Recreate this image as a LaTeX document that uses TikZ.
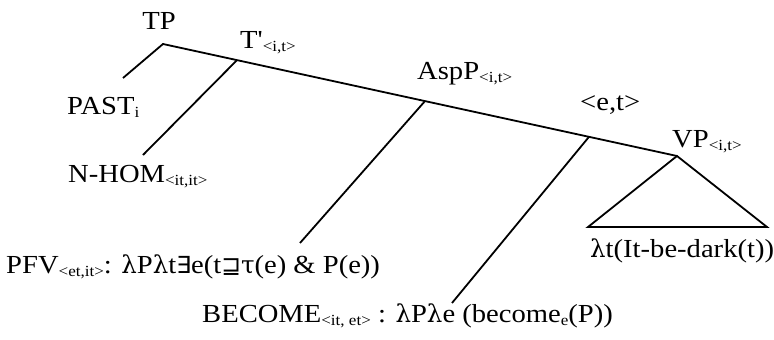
\documentclass[tikz,border=0pt]{standalone}
\usepackage{fontspec}
\setmainfont{Liberation Serif}[FakeStretch=1.1]
\newfontfamily\plainrm{Liberation Serif}[FakeStretch=1.1]
\newfontfamily\symserif{DejaVu Serif}
\newfontfamily\symsans{DejaVu Sans}
\usetikzlibrary{calc}
\newcommand\lsub[1]{\raisebox{-3pt}{\fontsize{15.5}{16}\selectfont #1}}
\newcommand\lam{{\symserif\fontsize{24.5}{26}\selectfont λ}}
\newcommand\tauch{{\symserif\fontsize{24.5}{26}\selectfont τ}}
\newcommand\exch{{\symsans\fontsize{23.5}{26}\selectfont ∃}}
\newcommand\sqsup{{\symsans\fontsize{23.5}{26}\selectfont ⊒}}
\begin{document}
\begin{tikzpicture}[x=1pt,y=-1pt,
  lbl/.style={inner sep=0pt, anchor=base west, font=\fontsize{26}{30}\selectfont},
  edge/.style={line width=1.8pt, line cap=butt, line join=miter}]
\useasboundingbox (0,0) rectangle (774,340);
% tree points
\coordinate (tp) at (163,44);
\coordinate (vp) at (677,156);
\coordinate (tbar) at ($(tp)!0.144!(vp)$);
\coordinate (asp) at ($(tp)!0.5097!(vp)$);
\coordinate (et) at ($(tp)!0.8288!(vp)$);
\coordinate (pastEnd) at (123,78);
\coordinate (nhomEnd) at (143,155);
\coordinate (pfvEnd) at (300,243);
\coordinate (becEnd) at (452,303);
\coordinate (triL) at (588,227);
\coordinate (triR) at (767,227);
% labels
\node[lbl, anchor=base] (tpL) at (159,29) {TP};
\node[lbl] (tbarL) at (240,48) {T{\plainrm '}\lsub{<i,t>}};
\node[lbl] (pastL) at (67,114) {PAST\lsub{i}};
\node[lbl] (nhomL) at (68,182) {N-HOM\lsub{<it,it>}};
\node[lbl] (aspL) at (417,79) {AspP\lsub{<i,t>}};
\node[lbl] (etL) at (580,110) {<e,t>};
\node[lbl] (vpL) at (672,147) {VP\lsub{<i,t>}};
\node[lbl] (vpTxt) at (590,257) {\lam t(It-be-dark(t))};
\node[lbl] (pfvL) at (6,273) {PFV\lsub{<et,it>}: \lam P\lam t\exch e(t\sqsup\tauch(e) \& P(e))};
\node[lbl] (becL) at (202,322) {BECOME\lsub{<it, et>} : \lam P\lam e (become\lsub{e}(P))};
% edges
\draw[edge] (pastEnd) -- (tp) -- (vp);
\draw[edge] (tbar) -- (nhomEnd);
\draw[edge] (asp) -- (pfvEnd);
\draw[edge] (et) -- (becEnd);
\draw[edge] (vp) -- (triL) -- (triR) -- cycle;
\end{tikzpicture}
\end{document}
